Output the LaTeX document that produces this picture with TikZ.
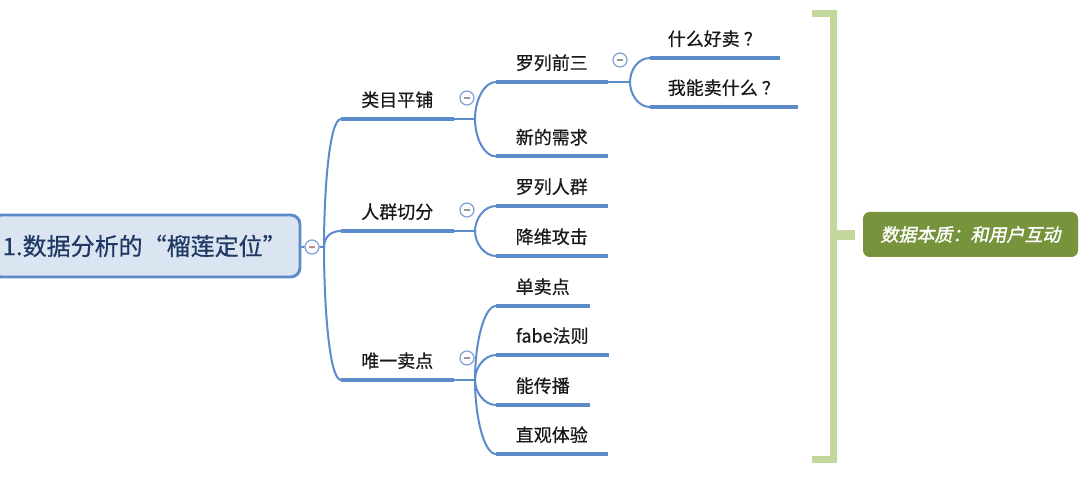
\documentclass[tikz,border=0pt]{standalone}
\usepackage{fontspec}
\setmainfont{Noto Sans CJK SC}[FakeBold=0.6]
\newfontfamily\gistfont[FakeSlant=0.2,FakeBold=1.5]{Noto Sans CJK SC}
\definecolor{mapblue}{HTML}{5B8BCB}
\definecolor{rootfill}{HTML}{DBE5F1}
\definecolor{rootink}{HTML}{1F3864}
\definecolor{foldline}{HTML}{7F9FD3}
\definecolor{bracketgreen}{HTML}{C3D69B}
\definecolor{gistgreen}{HTML}{77933C}
\tikzset{
  topic/.style={minimum width=#1, minimum height=28.5pt, inner sep=0pt, anchor=south west,
    font=\fontsize{13.5}{16}\selectfont, text=black!90},
  uline/.style={mapblue, line width=3pt},
  link/.style={mapblue, line width=1.5pt},
  curv/.style={in=180, in distance=9pt, out distance=#1},
  fold/.style={circle, draw=foldline, fill=white, line width=0.9pt, minimum size=10.5pt, inner sep=0pt,
    path picture={\draw[#1, line width=0.9pt] ([xshift=-2.6pt]path picture bounding box.center)
      -- ([xshift=2.6pt]path picture bounding box.center);}},
  fold/.default=gray!80
}
\begin{document}
\begin{tikzpicture}[x=0.75pt,y=0.75pt]
\useasboundingbox (0,0) rectangle (1080,477);
\begin{scope}
\node[draw=mapblue, line width=2.2pt, fill=rootfill, rounded corners=7pt, minimum width=231pt,
  minimum height=46.5pt, inner xsep=8pt, text width=215pt, align=left,
  font=\fontsize{18}{22}\selectfont, text=rootink] (root) at (146,231) {1.数据分析的“榴莲定位”};
\node[fold=red!30!gray!70] (c0) at (312,230) {};
\coordinate (j0) at (324,230);
\end{scope}
\begin{scope}
\node[topic=84pt] (lei) at (341,358) {类目平铺};
\node[topic=84pt] (ren) at (341,246) {人群切分};
\node[topic=84pt] (wei) at (341,97) {唯一卖点};
\node[fold] (f1) at (467,379) {};\node[fold] (f2) at (467,267) {};\node[fold] (f3) at (467,119) {};
\coordinate (j1) at (475,358);\coordinate (j2) at (475,246);\coordinate (j3) at (475,97);
\end{scope}
\begin{scope}
\node[topic=83.25pt] (luo) at (496,395) {罗列前三};
\node[topic=83.25pt] (xin) at (496,320.5) {新的需求};
\node[topic=83.25pt] (lrq) at (496,271) {罗列人群};
\node[topic=83.25pt] (jw) at (496,221) {降维攻击};
\node[topic=69.75pt] (dan) at (496,171) {单卖点};
\node[topic=84pt] (fabe) at (496,122) {fabe法则};
\node[topic=69.75pt] (chuan) at (496,72) {能传播};
\node[topic=83.25pt] (zhi) at (496,23) {直观体验};
\node[fold] (f4) at (620,417) {};
\coordinate (j4) at (630,395);
\node[topic=96.75pt] (hao) at (650,419) {什么好卖\hspace{3pt}？};
\node[topic=110.25pt] (neng) at (650,370) {我能卖什么\hspace{3pt}？};
\end{scope}
\foreach \n in {lei,ren,wei,luo,xin,lrq,jw,dan,fabe,chuan,zhi,hao,neng}
  \draw[uline] (\n.south west) -- (\n.south east);
\draw[link] (root) -- (c0) -- (j0);
\draw[link] (j0) to[curv=40pt, out=90] (lei.south west);
\draw[link] (j0) to[curv=6pt, out=90] (ren.south west);
\draw[link] (j0) to[curv=42pt, out=270] (wei.south west);
\draw[link] (lei.south east) -- (j1);
\draw[link] (j1) to[curv=14pt, out=90] (luo.south west);
\draw[link] (j1) to[curv=14pt, out=270] (xin.south west);
\draw[link] (ren.south east) -- (j2);
\draw[link] (j2) to[curv=9pt, out=90] (lrq.south west);
\draw[link] (j2) to[curv=9pt, out=270] (jw.south west);
\draw[link] (wei.south east) -- (j3);
\draw[link] (j3) to[curv=28pt, out=90] (dan.south west);
\draw[link] (j3) to[curv=9pt, out=90] (fabe.south west);
\draw[link] (j3) to[curv=9pt, out=270] (chuan.south west);
\draw[link] (j3) to[curv=28pt, out=270] (zhi.south west);
\draw[link] (luo.south east) -- (j4);
\draw[link] (j4) to[curv=9pt, out=90] (hao.south west);
\draw[link] (j4) to[curv=9pt, out=270] (neng.south west);
% summary bracket
\draw[bracketgreen, line width=5.25pt] (812,463.5) -- (833.5,463.5) -- (833.5,17.5) -- (812,17.5);
\coordinate (tk) at (833.5,242);\coordinate (tkend) at (855,242);
\draw[bracketgreen, line width=7pt] (tk) -- (tkend);
\node[fill=gistgreen, rounded corners=5pt, minimum width=161.25pt, minimum height=33.75pt, text=white,
  font=\gistfont\fontsize{13.5}{16}\selectfont] (gist) at (970.5,242.5) {数据本质：和用户互动};
\end{tikzpicture}
\end{document}
